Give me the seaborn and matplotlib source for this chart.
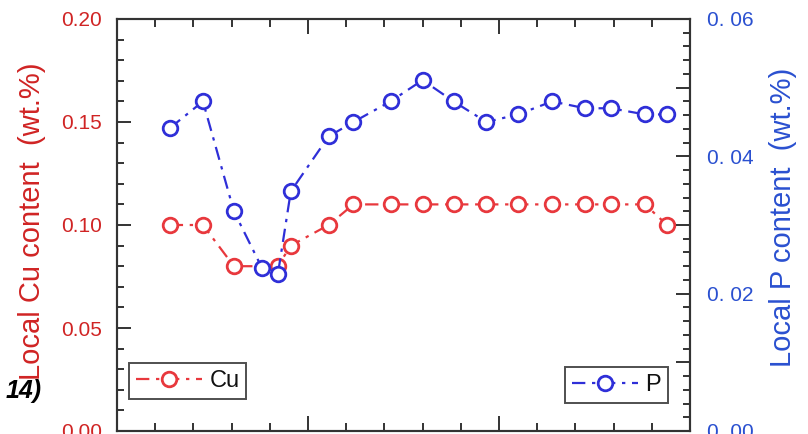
import numpy as np
import pandas as pd
import matplotlib
matplotlib.use("Agg")
import matplotlib.pyplot as plt
from matplotlib.ticker import MultipleLocator, FuncFormatter
import seaborn as sns

# dados (eixo x sem rótulos visíveis, escala 0-15)
x_cu = [1.38, 2.25, 3.06, 4.21, 4.55, 5.54, 6.19, 7.16, 8.00, 8.81, 9.67,
        10.50, 11.39, 12.25, 12.93, 13.82, 14.40]
cu = [0.10, 0.10, 0.08, 0.08, 0.09, 0.10, 0.11, 0.11, 0.11, 0.11, 0.11,
      0.11, 0.11, 0.11, 0.11, 0.11, 0.10]

x_p = [1.38, 2.25, 3.06, 3.79, 4.21, 4.55, 5.54, 6.19, 7.16, 8.00, 8.81,
       9.67, 10.50, 11.39, 12.25, 12.93, 13.82, 14.40]
p = [0.0441, 0.0480, 0.0320, 0.0238, 0.0228, 0.0349, 0.0429, 0.0450, 0.0480,
     0.0511, 0.0480, 0.0450, 0.0461, 0.0480, 0.0470, 0.0470, 0.0461, 0.0461]

df_cu = pd.DataFrame({"x": x_cu, "Cu": cu})
df_p = pd.DataFrame({"x": x_p, "P": p})

red_mark = "#e8383d"
red_text = "#d02424"
blue_mark = "#2f2fd8"
blue_text = "#2a50d0"

sns.set_theme(style="ticks")
plt.rcParams["font.family"] = ["Liberation Sans", "DejaVu Sans"]

fig = plt.figure(figsize=(8.08, 4.34), dpi=100)
ax = fig.add_axes([117 / 808, 1 - 431 / 434, (690 - 117) / 808, (431 - 19) / 434])
ax2 = ax.twinx()

estilo = (0, (6, 3, 1.5, 3))
sns.lineplot(data=df_cu, x="x", y="Cu", ax=ax, color=red_mark, marker="o",
             markersize=10.5, markerfacecolor="white", markeredgecolor=red_mark,
             markeredgewidth=2, linestyle=estilo, linewidth=1.6, label="Cu")
sns.lineplot(data=df_p, x="x", y="P", ax=ax2, color=blue_mark, marker="o",
             markersize=10.5, markerfacecolor="white", markeredgecolor=blue_mark,
             markeredgewidth=2, linestyle=estilo, linewidth=1.6, label="P")

ax.set_xlim(0, 15)
ax.set_ylim(0, 0.20)
ax2.set_ylim(0, 0.06)

ax.xaxis.set_major_locator(MultipleLocator(5))
ax.xaxis.set_minor_locator(MultipleLocator(1))
ax.yaxis.set_major_locator(MultipleLocator(0.05))
ax.yaxis.set_minor_locator(MultipleLocator(0.01))
ax.yaxis.set_major_formatter(FuncFormatter(lambda v, pos: f"{v:.2f}"))
ax2.yaxis.set_major_locator(MultipleLocator(0.01))
ax2.yaxis.set_minor_locator(MultipleLocator(0.002))


def fmt_p(v, pos):
    k = int(round(v * 100))
    if k % 2:
        return ""
    return f"{v:.2f}".replace(".", ". ")


ax2.yaxis.set_major_formatter(FuncFormatter(fmt_p))

ax.tick_params(axis="x", which="both", direction="in", top=True, bottom=True,
               labelbottom=False, width=1.4, color="#333333")
ax.tick_params(axis="x", which="major", length=11)
ax.tick_params(axis="x", which="minor", length=5.5)
ax.tick_params(axis="y", which="both", direction="in", left=True, right=False,
               width=1.4, color="#333333", labelcolor=red_text, labelsize=15, pad=11)
ax.tick_params(axis="y", which="major", length=10)
ax.tick_params(axis="y", which="minor", length=5)
ax2.tick_params(axis="y", which="both", direction="in", right=True, left=False,
                width=1.4, color="#333333", labelcolor=blue_text, labelsize=15, pad=12)
ax2.tick_params(axis="y", which="major", length=10)
ax2.tick_params(axis="y", which="minor", length=5)

for a in (ax, ax2):
    for s in a.spines.values():
        s.set_linewidth(1.5)
        s.set_color("#333333")

ax.set_xlabel("")
ax.set_ylabel("Local Cu content  (wt.%)", color=red_text, fontsize=21, va="center")
ax.yaxis.set_label_coords(-0.148, 0.51)
ax2.set_ylabel("Local P content  (wt.%)", color=blue_text, fontsize=21, va="center",
               rotation=90)
ax2.yaxis.set_label_coords(1.162, 0.519)

leg1 = ax.legend(loc="lower left", bbox_to_anchor=(129 / 808, 1 - 399 / 434),
                 bbox_transform=fig.transFigure, fontsize=17, frameon=True,
                 fancybox=False, handlelength=2.8, handletextpad=0.3,
                 borderpad=0.3, borderaxespad=0)
leg2 = ax2.legend(loc="lower right", bbox_to_anchor=(668 / 808, 1 - 403 / 434),
                  bbox_transform=fig.transFigure, fontsize=17, frameon=True,
                  fancybox=False, handlelength=2.8, handletextpad=0.3,
                  borderpad=0.3, borderaxespad=0)
for lg in (leg1, leg2):
    lg.get_frame().set_edgecolor("#222222")
    lg.get_frame().set_linewidth(1.4)
    for t in lg.get_texts():
        t.set_color("#111111")

# pedaço de legenda cortado à esquerda
fig.text(42 / 808, 1 - 391 / 434, "14)", ha="right", va="center", fontsize=18,
         fontweight="bold", fontstyle="italic", color="black")

fig.savefig("out.png", dpi=100)
plt.close(fig)
